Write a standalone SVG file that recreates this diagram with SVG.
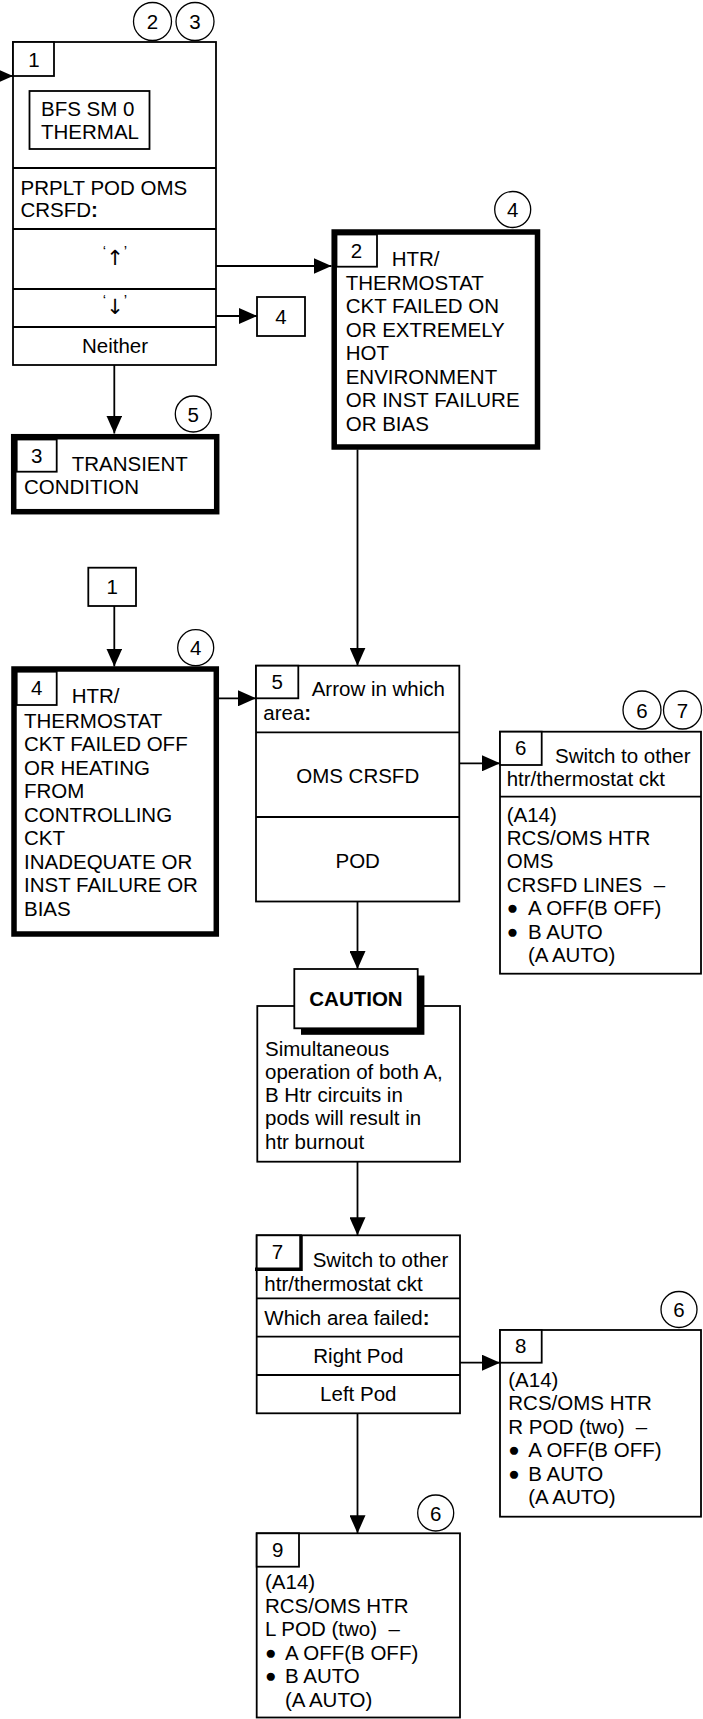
<svg xmlns="http://www.w3.org/2000/svg" width="703" height="1719" viewBox="0 0 703 1719">
<defs>
<style>
text{font-family:"Liberation Sans",Arial,sans-serif;font-size:20.5px;fill:#000}
.c{text-anchor:middle}
.b{font-weight:bold}
.q{font-size:15px}
.ar{font-family:"DejaVu Sans",sans-serif;font-size:21px}
.bu{font-size:19px}
.box{fill:#fff;stroke:#000;stroke-width:1.8}
.thick{fill:#fff;stroke:#000;stroke-width:5.5}
.ln{fill:none;stroke:#000;stroke-width:1.8}
.circ{fill:#fff;stroke:#000;stroke-width:1.3}
.con{fill:none;stroke:#000;stroke-width:1.8;marker-end:url(#ah)}
</style>
<marker id="ah" markerUnits="userSpaceOnUse" viewBox="0 0 18 16" refX="18" refY="8" markerWidth="18" markerHeight="16" orient="auto">
<path d="M0,0 L18,8 L0,16 z" fill="#000"/>
</marker>
</defs>
<rect width="703" height="1719" fill="#fff"/>

<g id="connectors">
<line class="con" x1="0" y1="76" x2="13" y2="76"/>
<line class="con" x1="216" y1="266" x2="331.5" y2="266"/>
<line class="con" x1="216" y1="316" x2="257" y2="316"/>
<line class="con" x1="114.3" y1="365" x2="114.3" y2="433.5"/>
<line class="con" x1="114.3" y1="606" x2="114.3" y2="666.5"/>
<line class="con" x1="216.5" y1="698.3" x2="256" y2="698.3"/>
<line class="con" x1="357.5" y1="449.5" x2="357.5" y2="665.7"/>
<line class="con" x1="357.5" y1="901.5" x2="357.5" y2="969"/>
<line class="con" x1="459.3" y1="763.3" x2="500" y2="763.3"/>
<line class="con" x1="357.5" y1="1161.7" x2="357.5" y2="1235.3"/>
<line class="con" x1="460" y1="1362.7" x2="500" y2="1362.7"/>
<line class="con" x1="357.5" y1="1413.3" x2="357.5" y2="1533.3"/>
</g>

<g id="node1">
<rect class="box" x="13" y="42" width="203" height="323"/>
<rect class="box" x="13" y="42" width="41" height="34"/>
<text class="c" x="34" y="67">1</text>
<rect class="box" x="29.5" y="91" width="120" height="58"/>
<text x="41" y="116">BFS SM 0</text>
<text x="41" y="139">THERMAL</text>
<line class="ln" x1="13" y1="168" x2="216" y2="168"/>
<text x="20.5" y="195">PRPLT POD OMS</text>
<text x="20.5" y="217">CRSFD<tspan class="b">:</tspan></text>
<line class="ln" x1="13" y1="229" x2="216" y2="229"/>
<text class="c" x="115" y="265"><tspan class="q" dy="-9">‘</tspan><tspan class="ar" dy="9">↑</tspan><tspan class="q" dy="-9">’</tspan></text>
<line class="ln" x1="13" y1="289" x2="216" y2="289"/>
<text class="c" x="115" y="314"><tspan class="q" dy="-9">‘</tspan><tspan class="ar" dy="9">↓</tspan><tspan class="q" dy="-9">’</tspan></text>
<line class="ln" x1="13" y1="327" x2="216" y2="327"/>
<text class="c" x="115" y="353">Neither</text>
<circle class="circ" cx="152.5" cy="21.5" r="19"/>
<text class="c" x="152.5" y="29">2</text>
<circle class="circ" cx="195" cy="21.5" r="19"/>
<text class="c" x="195" y="29">3</text>
</g>

<g id="offpage4a">
<rect class="box" x="257" y="297" width="48" height="39"/>
<text class="c" x="281" y="323.5">4</text>
</g>

<g id="node2">
<rect class="thick" x="334.2" y="232" width="203.3" height="215"/>
<rect class="box" x="336.5" y="234.5" width="40.5" height="32.2"/>
<text class="c" x="356.5" y="257.5">2</text>
<text x="391.7" y="266">HTR/</text>
<text x="345.7" y="289.5">THERMOSTAT</text>
<text x="345.7" y="313">CKT FAILED ON</text>
<text x="345.7" y="336.5">OR EXTREMELY</text>
<text x="345.7" y="360">HOT</text>
<text x="345.7" y="383.5">ENVIRONMENT</text>
<text x="345.7" y="407">OR INST FAILURE</text>
<text x="345.7" y="430.5">OR BIAS</text>
<circle class="circ" cx="512.7" cy="209.5" r="18"/>
<text class="c" x="512.7" y="217">4</text>
</g>

<g id="node3">
<rect class="thick" x="13.7" y="436.7" width="203" height="75"/>
<rect class="box" x="16.7" y="439.5" width="40" height="32.2"/>
<text class="c" x="36.7" y="462.5">3</text>
<text x="71.7" y="470.7">TRANSIENT</text>
<text x="24" y="494.3">CONDITION</text>
<circle class="circ" cx="193.3" cy="414" r="18"/>
<text class="c" x="193.3" y="421.5">5</text>
</g>

<g id="offpage1">
<rect class="box" x="88.3" y="567.7" width="47.7" height="38.3"/>
<text class="c" x="112.2" y="594">1</text>
</g>

<g id="node4">
<rect class="thick" x="14" y="669" width="202.3" height="265"/>
<rect class="box" x="16.7" y="671.7" width="40" height="33.3"/>
<text class="c" x="36.7" y="695">4</text>
<text x="71.7" y="702.7">HTR/</text>
<text x="24" y="727.7">THERMOSTAT</text>
<text x="24" y="751.2">CKT FAILED OFF</text>
<text x="24" y="774.7">OR HEATING</text>
<text x="24" y="798.2">FROM</text>
<text x="24" y="821.7">CONTROLLING</text>
<text x="24" y="845.2">CKT</text>
<text x="24" y="868.7">INADEQUATE OR</text>
<text x="24" y="892.2">INST FAILURE OR</text>
<text x="24" y="915.7">BIAS</text>
<circle class="circ" cx="195.7" cy="647.7" r="18"/>
<text class="c" x="195.7" y="655.2">4</text>
</g>

<g id="node5">
<rect class="box" x="256" y="665.7" width="203.3" height="235.8"/>
<rect class="box" x="256" y="665.7" width="42.3" height="32.6"/>
<text class="c" x="277.2" y="689">5</text>
<text x="311.7" y="696">Arrow in which</text>
<text x="263.3" y="720">area<tspan class="b">:</tspan></text>
<line class="ln" x1="256" y1="732.3" x2="459.3" y2="732.3"/>
<text class="c" x="357.7" y="783.3">OMS CRSFD</text>
<line class="ln" x1="256" y1="817" x2="459.3" y2="817"/>
<text class="c" x="357.7" y="868.3">POD</text>
</g>

<g id="node6">
<rect class="box" x="500" y="731.7" width="201" height="242"/>
<rect class="box" x="500" y="731.7" width="41.7" height="33.3"/>
<text class="c" x="520.8" y="755">6</text>
<text x="555" y="762.7">Switch to other</text>
<text x="506.7" y="786">htr/thermostat ckt</text>
<line class="ln" x1="500" y1="796.7" x2="701" y2="796.7"/>
<text x="506.7" y="821.7">(A14)</text>
<text x="506.7" y="845">RCS/OMS HTR</text>
<text x="506.7" y="868.4">OMS</text>
<text x="506.7" y="891.8" xml:space="preserve">CRSFD LINES  –</text>
<text x="506.7" y="915.2"><tspan class="bu" dy="-1">●</tspan><tspan x="528" dy="1">A OFF(B OFF)</tspan></text>
<text x="506.7" y="938.6"><tspan class="bu" dy="-1">●</tspan><tspan x="528" dy="1">B AUTO</tspan></text>
<text x="528" y="962">(A AUTO)</text>
<circle class="circ" cx="642" cy="710" r="19"/>
<text class="c" x="642" y="717.5">6</text>
<circle class="circ" cx="682.5" cy="710" r="19"/>
<text class="c" x="682.5" y="717.5">7</text>
</g>

<g id="caution">
<rect class="box" x="257.3" y="1006" width="202.7" height="155.7"/>
<rect x="301" y="975.5" width="123.4" height="59.3" fill="#000"/>
<rect class="box" x="294.3" y="969" width="123.4" height="59.3"/>
<text class="c b" x="356" y="1006">CAUTION</text>
<text x="265" y="1055.5">Simultaneous</text>
<text x="265" y="1078.8">operation of both A,</text>
<text x="265" y="1102.1">B Htr circuits in</text>
<text x="265" y="1125.4">pods will result in</text>
<text x="265" y="1148.7">htr burnout</text>
</g>

<g id="node7">
<rect class="box" x="256.7" y="1235.3" width="203.3" height="178"/>
<rect class="box" x="256.7" y="1235.3" width="44.3" height="34"/>
<path d="M301,1235.3 V1269.3 H255" fill="none" stroke="#000" stroke-width="3.5"/>
<text class="c" x="277.5" y="1258.5">7</text>
<text x="312.7" y="1266.7">Switch to other</text>
<text x="264.3" y="1290.7">htr/thermostat ckt</text>
<line class="ln" x1="256.7" y1="1298.3" x2="460" y2="1298.3"/>
<text x="264.3" y="1325">Which area failed<tspan class="b">:</tspan></text>
<line class="ln" x1="256.7" y1="1336.7" x2="460" y2="1336.7"/>
<text class="c" x="358.3" y="1363.3">Right Pod</text>
<line class="ln" x1="256.7" y1="1375" x2="460" y2="1375"/>
<text class="c" x="358.3" y="1400.7">Left Pod</text>
</g>

<g id="node8">
<rect class="box" x="500" y="1330" width="201" height="186.7"/>
<rect class="box" x="500" y="1330" width="41.7" height="32.7"/>
<text class="c" x="520.8" y="1352.5">8</text>
<text x="508.3" y="1386.5">(A14)</text>
<text x="508.3" y="1410">RCS/OMS HTR</text>
<text x="508.3" y="1433.5" xml:space="preserve">R POD (two)  –</text>
<text x="508.3" y="1457"><tspan class="bu" dy="-1">●</tspan><tspan x="528.3" dy="1">A OFF(B OFF)</tspan></text>
<text x="508.3" y="1480.5"><tspan class="bu" dy="-1">●</tspan><tspan x="528.3" dy="1">B AUTO</tspan></text>
<text x="528.3" y="1504">(A AUTO)</text>
<circle class="circ" cx="679" cy="1309.5" r="18"/>
<text class="c" x="679" y="1317">6</text>
</g>

<g id="node9">
<rect class="box" x="256.7" y="1533.3" width="203.3" height="184.2"/>
<rect class="box" x="256.7" y="1533.3" width="42.3" height="33.4"/>
<text class="c" x="277.8" y="1557">9</text>
<text x="265" y="1589.3">(A14)</text>
<text x="265" y="1612.8">RCS/OMS HTR</text>
<text x="265" y="1636.3" xml:space="preserve">L POD (two)  –</text>
<text x="265" y="1659.8"><tspan class="bu" dy="-1">●</tspan><tspan x="285" dy="1">A OFF(B OFF)</tspan></text>
<text x="265" y="1683.3"><tspan class="bu" dy="-1">●</tspan><tspan x="285" dy="1">B AUTO</tspan></text>
<text x="285" y="1706.8">(A AUTO)</text>
<circle class="circ" cx="435.7" cy="1513" r="18"/>
<text class="c" x="435.7" y="1520.5">6</text>
</g>
</svg>
